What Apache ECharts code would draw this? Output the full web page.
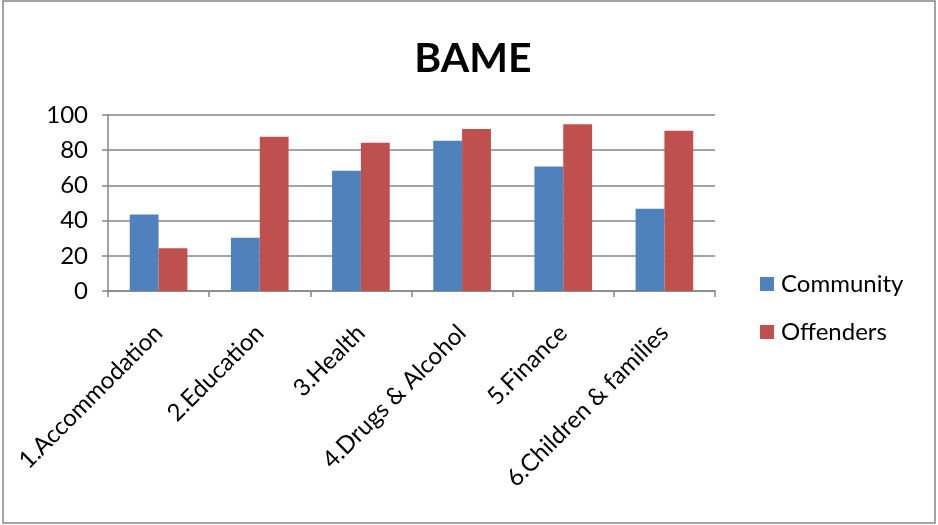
<!DOCTYPE html>
<html><head><meta charset="utf-8">
<script src="https://cdn.jsdelivr.net/npm/echarts@6/dist/echarts.min.js"></script>
<style>html,body{margin:0;padding:0;background:#fff}#c{width:938px;height:525px}</style>
</head><body><div id="c"></div>
<script>
var categories = ['1.Accommodation','2.Education','3.Health','4.Drugs & Alcohol','5.Finance','6.Children & families'];
var community = [43.5, 30.2, 68.3, 85.3, 70.7, 46.7];
var offenders = [24.3, 87.7, 84.3, 92.0, 94.7, 91.0];
var yTicks = [0, 20, 40, 60, 80, 100];
var FONT = 'Lato';
var chart = echarts.init(document.getElementById('c'));
chart.setOption({
  animation: false,
  backgroundColor: '#fff',
  title: {text: 'BAME', left: 468, top: 33, textAlign: 'center',
    textStyle: {fontFamily: FONT, fontSize: 41, fontWeight: 'bold', color: '#000'}},
  graphic: [{type: 'rect', shape: {x: 3, y: 1, width: 932, height: 522},
    style: {fill: 'none', stroke: '#868686', lineWidth: 1.5}, silent: true}],
  legend: {orient: 'vertical', left: 755, top: 267, itemGap: 24, itemWidth: 14, itemHeight: 14,
    icon: 'rect', textStyle: {fontFamily: FONT, fontSize: 24, color: '#000', padding: [0,0,0,2]},
    data: ['Community','Offenders']},
  grid: {left: 108, right: 223, top: 115, bottom: 234, containLabel: false},
  xAxis: {type: 'category', data: categories,
    axisLine: {lineStyle: {color: '#868686', width: 1.5}},
    axisTick: {show: true, length: 6, inside: false, lineStyle: {color: '#868686', width: 1.5}},
    axisLabel: {rotate: 45, interval: 0, fontFamily: FONT, fontSize: 24, color: '#000', margin: 38}},
  yAxis: {type: 'value', min: 0, max: 100, interval: 20,
    axisLine: {show: true, lineStyle: {color: '#868686', width: 1.5}},
    axisTick: {show: true, length: 6, lineStyle: {color: '#868686', width: 1.5}},
    splitLine: {lineStyle: {color: '#868686', width: 1.5}},
    axisLabel: {fontFamily: FONT, fontSize: 24, color: '#000', margin: 20,
      formatter: function(v){ return yTicks.indexOf(v) >= 0 ? String(v) : ''; }}},
  series: [
    {name: 'Community', type: 'bar', data: community, barGap: '0%', barCategoryGap: '43%',
      itemStyle: {color: '#4F81BD'}},
    {name: 'Offenders', type: 'bar', data: offenders, barGap: '0%', barCategoryGap: '43%',
      itemStyle: {color: '#C0504D'}}
  ]
});
</script></body></html>
